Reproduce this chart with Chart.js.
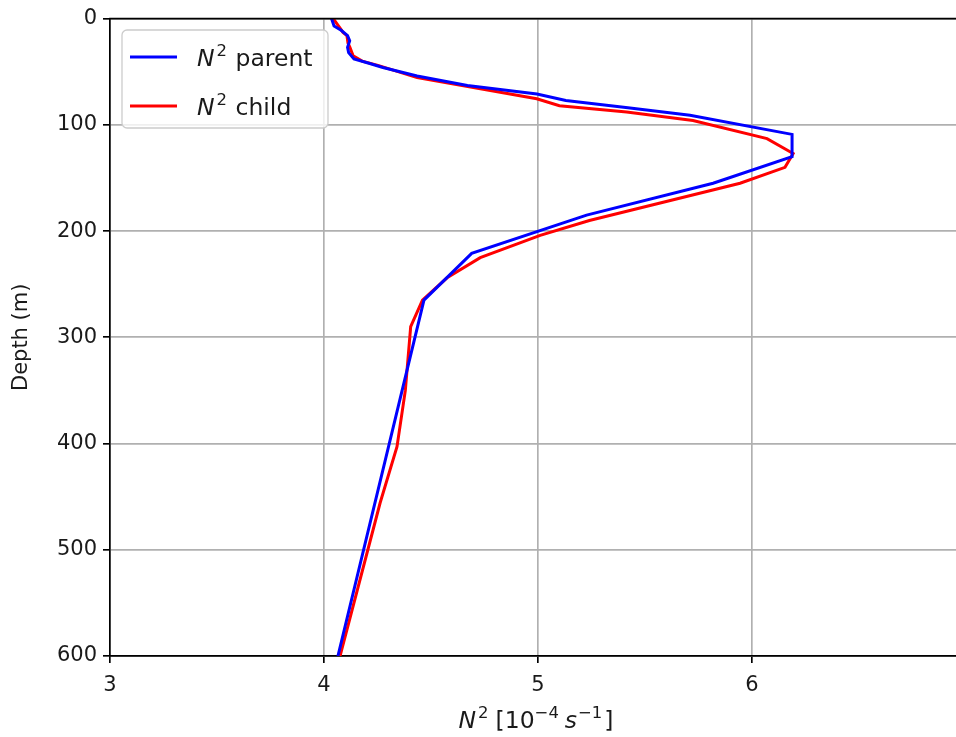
<!DOCTYPE html>
<html><head><meta charset="utf-8">
<script src="https://cdn.jsdelivr.net/npm/chart.js@4.4.1/dist/chart.umd.min.js"></script>
<style>html,body{margin:0;padding:0;background:#fff;}#wrap{width:956px;height:737px;}</style>
</head><body><div id="wrap"><canvas id="c" width="956" height="737"></canvas></div>
<script>
// depth (m) and N^2 [1e-4 s^-1] for the parent grid
const depthParent = [0, 7, 11, 16, 21, 27, 32, 38, 42, 46, 54, 63, 71, 77, 84, 91, 109, 130, 155, 185, 221, 265, 600];
const n2Parent    = [4.035, 4.047, 4.08, 4.11, 4.12, 4.11, 4.115, 4.14, 4.21, 4.275, 4.435, 4.67, 4.995, 5.13, 5.42, 5.71, 6.187, 6.187, 5.818, 5.227, 4.69, 4.467, 4.065];
// depth (m) and N^2 for the child grid
const depthChild = [0, 9, 13, 16, 23, 27, 35, 40, 44, 55.5, 75.5, 82, 88, 96, 113, 127, 140, 155, 190, 204, 225, 244, 265, 290, 350, 403, 456, 600];
const n2Child    = [4.043, 4.075, 4.089, 4.107, 4.112, 4.121, 4.136, 4.178, 4.252, 4.435, 4.994, 5.10, 5.414, 5.724, 6.07, 6.192, 6.154, 5.944, 5.24, 5.01, 4.73, 4.575, 4.46, 4.405, 4.38, 4.341, 4.262, 4.075];
const seriesLabels = ['N² parent', 'N² child'];
const seriesColors = ['#0000ff', '#ff0000'];
const xTicks = [3, 4, 5, 6];
const yTicks = [0, 100, 200, 300, 400, 500, 600];
const xTitle = 'N² [10⁻⁴ s⁻¹]';
const yTitle = 'Depth (m)';

const FONT = '"DejaVu Sans", sans-serif';
const FS = 21;

function toPts(xs, ys) { return xs.map((v, i) => ({ x: v, y: ys[i] })); }

function drawRich(ctx, segs, x, y, align, fs) {
  const widths = segs.map(s => {
    const size = s.sup ? fs * 0.7 : fs;
    ctx.font = (s.it ? 'italic ' : '') + size + 'px ' + FONT;
    return ctx.measureText(s.t).width + (s.gap || 0);
  });
  const total = widths.reduce((a, b) => a + b, 0);
  let cx = align === 'center' ? x - total / 2 : x;
  ctx.textBaseline = 'alphabetic';
  ctx.textAlign = 'left';
  segs.forEach((s, i) => {
    const size = s.sup ? fs * 0.7 : fs;
    ctx.font = (s.it ? 'italic ' : '') + size + 'px ' + FONT;
    ctx.fillText(s.t, cx, s.sup ? y - fs * 0.42 : y);
    cx += widths[i];
  });
}

function labelSegs(lbl) {
  return [{ t: 'N', it: true, gap: 2 }, { t: '2', sup: true, gap: 1 }, { t: lbl.slice(2) }];
}

const decor = {
  id: 'decor',
  afterDraw(chart) {
    const ctx = chart.ctx;
    const a = chart.chartArea;
    ctx.save();
    // top spine
    ctx.strokeStyle = '#000';
    ctx.lineWidth = 1.67;
    ctx.beginPath();
    ctx.moveTo(a.left - 0.8, a.top);
    ctx.lineTo(a.right, a.top);
    ctx.stroke();

    // legend
    const bx = 122, by = 30, bw = 206, bh = 98, r = 5;
    ctx.beginPath();
    ctx.moveTo(bx + r, by);
    ctx.arcTo(bx + bw, by, bx + bw, by + bh, r);
    ctx.arcTo(bx + bw, by + bh, bx, by + bh, r);
    ctx.arcTo(bx, by + bh, bx, by, r);
    ctx.arcTo(bx, by, bx + bw, by, r);
    ctx.closePath();
    ctx.fillStyle = 'rgba(255,255,255,0.8)';
    ctx.fill();
    ctx.strokeStyle = '#cccccc';
    ctx.lineWidth = 1.3;
    ctx.stroke();
    const rows = [57, 106];
    chart.data.datasets.forEach((ds, i) => {
      ctx.strokeStyle = ds.borderColor;
      ctx.lineWidth = 3;
      ctx.lineCap = 'butt';
      ctx.beginPath();
      ctx.moveTo(130, rows[i]);
      ctx.lineTo(177, rows[i]);
      ctx.stroke();
      ctx.fillStyle = '#1a1a1a';
      drawRich(ctx, labelSegs(ds.label), 197, rows[i] + 8.5, 'left', 23.5);
    });

    // x axis title (rich text)
    ctx.fillStyle = '#1a1a1a';
    const xs = [
      { t: 'N', it: true, gap: 2 }, { t: '2', sup: true, gap: 7 },
      { t: '[10' }, { t: '−4', sup: true, gap: 6 },
      { t: 's', it: true, gap: 1 }, { t: '−1', sup: true, gap: 2 }, { t: ']' }
    ];
    drawRich(ctx, xs, 536, 728, 'center', 23.5);
    ctx.restore();
  }
};

new Chart(document.getElementById('c'), {
  type: 'line',
  data: {
    datasets: [
      { label: seriesLabels[0], data: toPts(n2Parent, depthParent), borderColor: seriesColors[0], backgroundColor: seriesColors[0], borderWidth: 3, pointRadius: 0, tension: 0, fill: false },
      { label: seriesLabels[1], data: toPts(n2Child, depthChild), borderColor: seriesColors[1], backgroundColor: seriesColors[1], borderWidth: 3, pointRadius: 0, tension: 0, fill: false }
    ]
  },
  options: {
    responsive: false,
    animation: false,
    devicePixelRatio: 1,
    layout: { padding: { top: 18, right: 0, left: 0, bottom: 0 } },
    plugins: { legend: { display: false }, tooltip: { enabled: false } },
    scales: {
      x: {
        type: 'linear', position: 'bottom', min: 3, max: 6.953,
        afterBuildTicks: s => { s.ticks = xTicks.map(v => ({ value: v })); },
        afterFit: s => { s.height = 81; },
        ticks: { color: '#1a1a1a', font: { family: FONT, size: FS }, padding: 10, maxRotation: 0, callback: v => String(v) },
        grid: { color: '#b0b0b0', lineWidth: 1.67, tickLength: 7, tickColor: '#000', tickWidth: 1.67 },
        border: { color: '#000', width: 1.67 },
        title: { display: false, text: xTitle }
      },
      y: {
        type: 'linear', position: 'left', reverse: true, min: 0, max: 600,
        afterBuildTicks: s => { s.ticks = yTicks.map(v => ({ value: v })); },
        afterFit: s => { s.width = 110; },
        ticks: { color: '#1a1a1a', font: { family: FONT, size: FS }, padding: 6, callback: v => String(v) },
        grid: { color: '#b0b0b0', lineWidth: 1.67, tickLength: 7, tickColor: '#000', tickWidth: 1.67 },
        border: { color: '#000', width: 1.67 },
        title: { display: true, text: yTitle, color: '#1a1a1a', font: { family: FONT, size: FS }, padding: { top: 9, bottom: 0 } }
      }
    }
  },
  plugins: [decor]
});
</script>
</body></html>
